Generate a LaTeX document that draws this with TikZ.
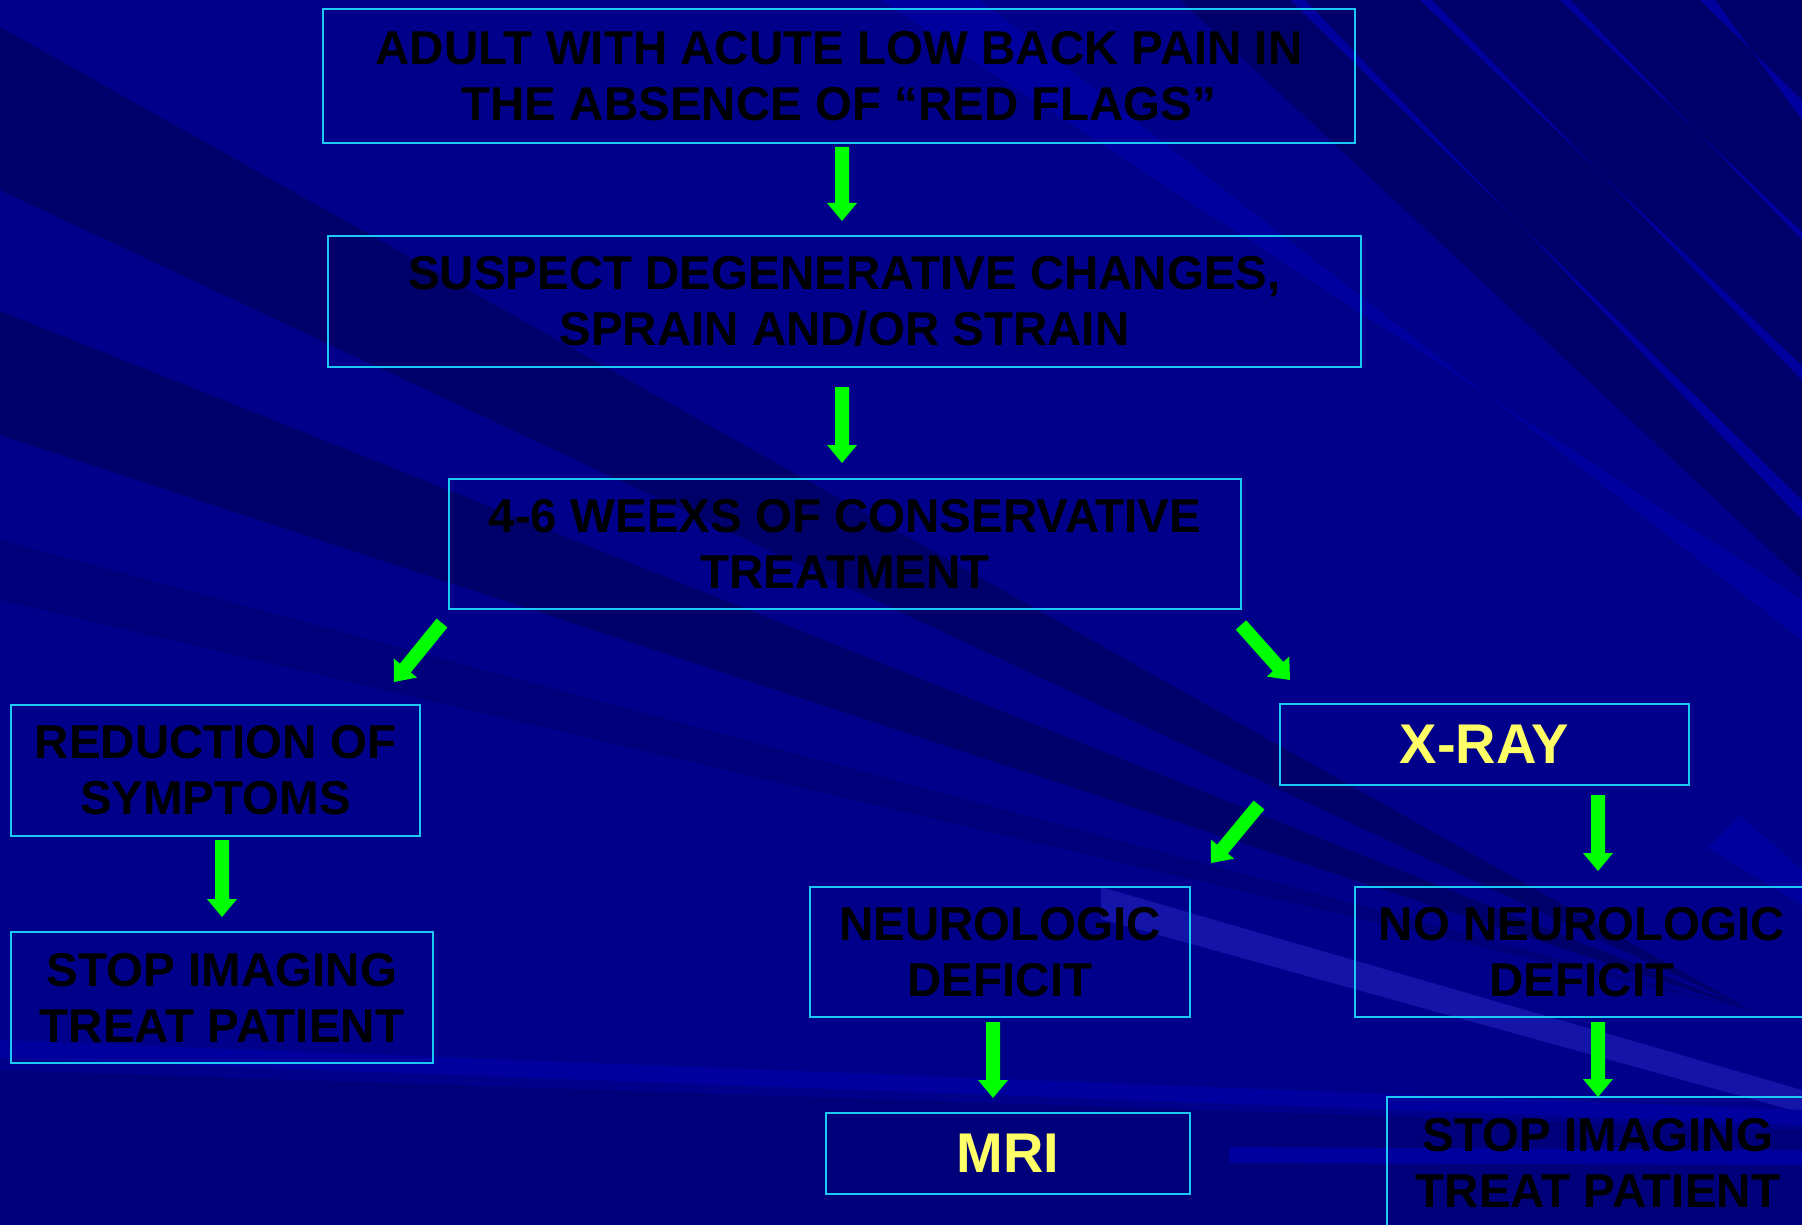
\documentclass[tikz,border=0pt]{standalone}
\usepackage{fontspec}
\setmainfont{Liberation Sans}
\usetikzlibrary{calc}
\definecolor{bgbase}{HTML}{00008A}
\definecolor{bgdark}{HTML}{00006A}
\definecolor{bgmid}{HTML}{00007A}
\definecolor{bglight}{HTML}{00009E}
\definecolor{bgbright}{HTML}{1414A8}
\definecolor{boxline}{HTML}{1EC8F5}
\definecolor{arrgreen}{HTML}{00FF00}
\definecolor{txtyellow}{HTML}{FFFF66}
\tikzset{
  box/.style={draw=boxline, line width=2.5pt, inner sep=0pt, align=center,
    font=\fontsize{47.5}{56}\selectfont\bfseries, text=black},
  ybox/.style={box, text=txtyellow, font=\fontsize{56}{60}\selectfont\bfseries},
  garr/.style={fill=arrgreen},
}
\newcommand\greenarrow[2]{%
  \path ($(#2)!18pt!(#1)$) coordinate (gaM);
  \fill[garr] ($(#1)!7pt!90:(#2)$) -- ($(gaM)!7pt!-90:(#1)$) -- ($(gaM)!15pt!-90:(#1)$)
    -- (#2) -- ($(gaM)!15pt!90:(#1)$) -- ($(gaM)!7pt!90:(#1)$) -- ($(#1)!7pt!-90:(#2)$) -- cycle;}
\begin{document}
\begin{tikzpicture}[x=1pt,y=-1pt]
\useasboundingbox (0,0) rectangle (1802,1225);
% background
\begin{scope}
\clip (0,0) rectangle (1802,1225);
\fill[bgbase] (0,0) rectangle (1802,1225);
\fill[bgdark] (0,27) -- (1750,1010) -- (0,190) -- cycle;
\fill[bgdark] (0,311) -- (1750,1010) -- (0,435) -- cycle;
\fill[bgmid] (0,540) -- (1750,1010) -- (0,600) -- cycle;
\fill[bgmid] (0,1070) -- (1802,1130) -- (1802,1225) -- (0,1225) -- cycle;
\fill[bglight] (880,0) -- (980,0) -- (1802,640) -- (1802,600) -- cycle;
\fill[bgdark] (1180,0) -- (1802,0) -- (1802,580) -- cycle;
\fill[bglight] (1290,0) -- (1305,0) -- (1802,520) -- (1802,500) -- cycle;
\fill[bglight] (1420,0) -- (1432,0) -- (1802,380) -- (1802,366) -- cycle;
\fill[bglight] (1560,0) -- (1570,0) -- (1802,240) -- (1802,232) -- cycle;
\fill[bglight] (1700,0) -- (1715,0) -- (1802,120) -- (1802,100) -- cycle;
\fill[bgbright] (1101,887) -- (1802,1090) -- (1802,1113) -- (1101,919) -- cycle;
\fill[bglight] (0,1040) -- (1802,1110) -- (1802,1125) -- (0,1058) -- cycle;
\fill[bglight] (1229,1147) -- (1802,1150) -- (1802,1165) -- (1229,1163) -- cycle;
\fill[bglight] (1708,848) -- (1740,815) -- (1802,870) -- (1802,905) -- cycle;
\end{scope}
% boxes
\node[box, minimum width=1032, minimum height=134] (b1) at (839,76)
  {ADULT WITH ACUTE LOW BACK PAIN IN\\THE ABSENCE OF “RED FLAGS”};
\node[box, minimum width=1033, minimum height=131] (b2) at (844.5,301.5)
  {SUSPECT DEGENERATIVE CHANGES,\\SPRAIN AND/OR STRAIN};
\node[box, minimum width=792, minimum height=130] (b3) at (845,544)
  {4-6 WEEXS OF CONSERVATIVE\\TREATMENT};
\node[box, minimum width=409, minimum height=131] (b4) at (215.5,770.5)
  {REDUCTION OF\\SYMPTOMS};
\node[box, minimum width=422, minimum height=131] (b5) at (222,997.5)
  {STOP IMAGING\\TREAT PATIENT};
\node[ybox, minimum width=409, minimum height=81] (b6) at (1484.5,744.5) {X-RAY};
\node[box, minimum width=380, minimum height=130] (b7) at (1000,952)
  {NEUROLOGIC\\DEFICIT};
\node[box, minimum width=454, minimum height=130] (b8) at (1582,952)
  {NO NEUROLOGIC\\DEFICIT};
\node[ybox, minimum width=364, minimum height=81] (b9) at (1008,1153.5) {MRI};
\node[box, minimum width=422, minimum height=131] (b10) at (1598,1162.5)
  {STOP IMAGING\\TREAT PATIENT};
% arrows
\coordinate (a1s) at (842,147);  \coordinate (a1e) at (842,221);
\coordinate (a2s) at (842,387);  \coordinate (a2e) at (842,463);
\coordinate (a3s) at (442,623);  \coordinate (a3e) at (394,682);
\coordinate (a4s) at (1241,625); \coordinate (a4e) at (1290,680);
\coordinate (a5s) at (222,840);  \coordinate (a5e) at (222,917);
\coordinate (a6s) at (1259,805); \coordinate (a6e) at (1211,863);
\coordinate (a7s) at (1598,795); \coordinate (a7e) at (1598,871);
\coordinate (a8s) at (993,1022); \coordinate (a8e) at (993,1098);
\coordinate (a9s) at (1598,1022);\coordinate (a9e) at (1598,1097);
\greenarrow{a1s}{a1e}
\greenarrow{a2s}{a2e}
\greenarrow{a3s}{a3e}
\greenarrow{a4s}{a4e}
\greenarrow{a5s}{a5e}
\greenarrow{a6s}{a6e}
\greenarrow{a7s}{a7e}
\greenarrow{a8s}{a8e}
\greenarrow{a9s}{a9e}
\end{tikzpicture}
\end{document}
